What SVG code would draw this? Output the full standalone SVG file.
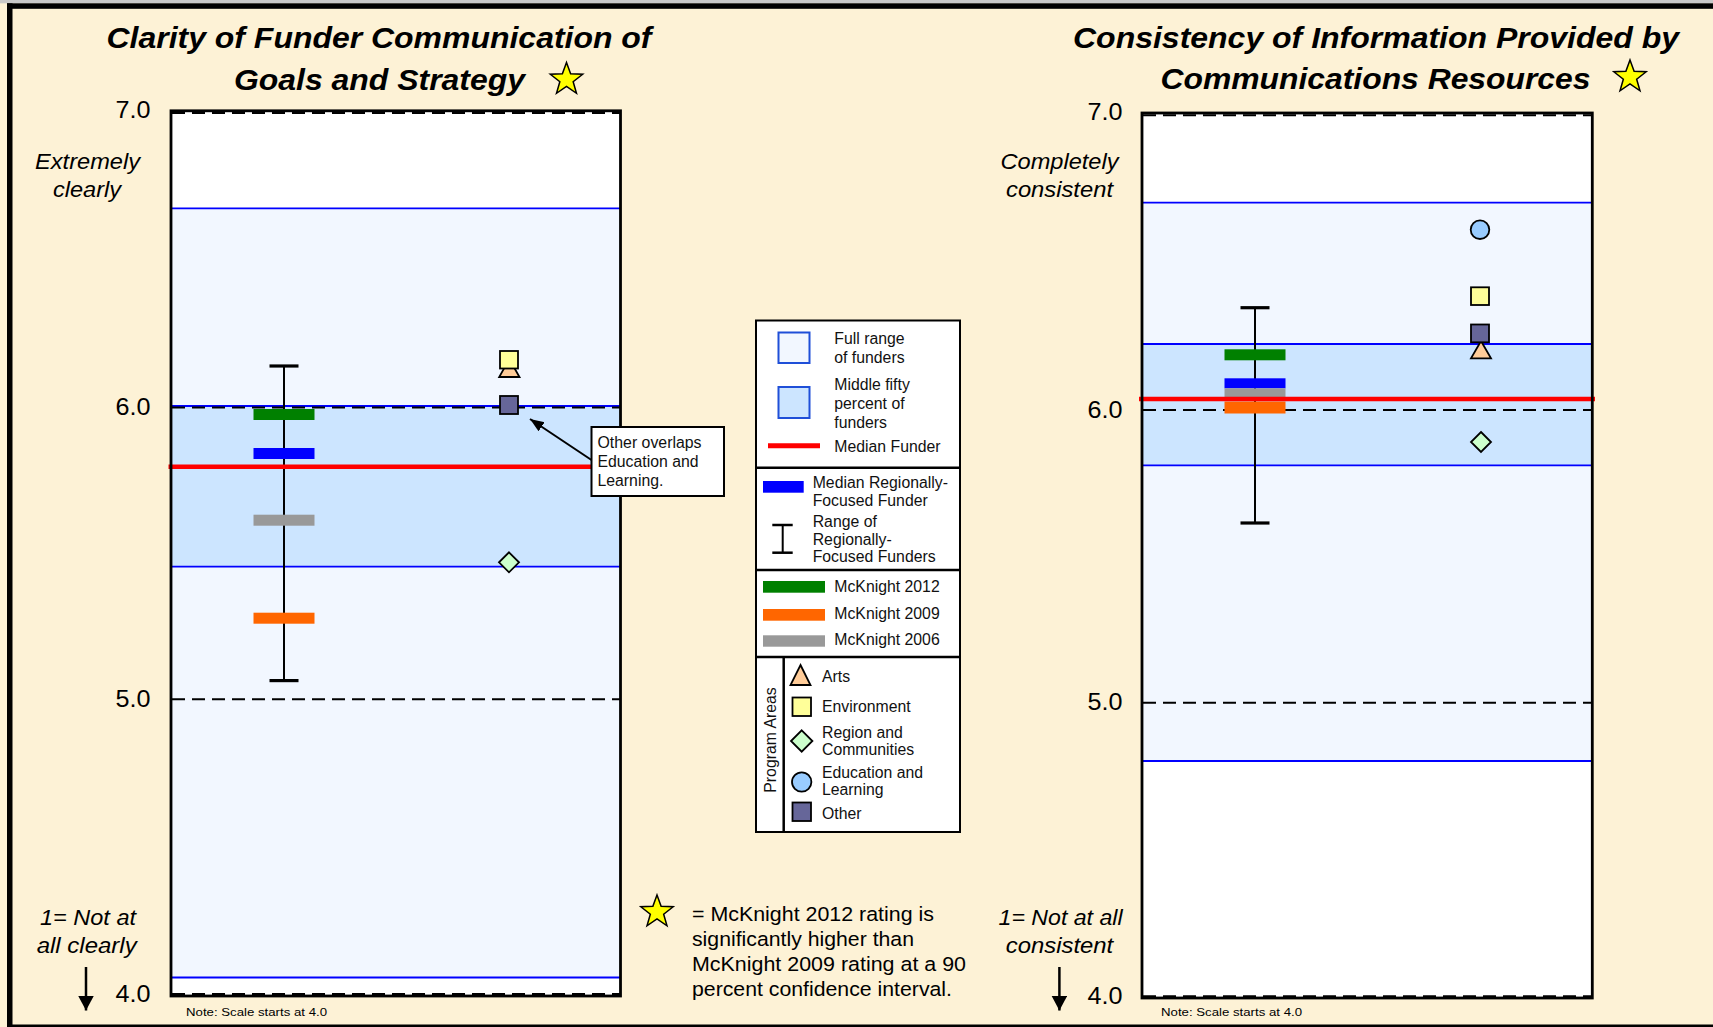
<svg xmlns="http://www.w3.org/2000/svg" width="1713" height="1027" viewBox="0 0 1713 1027">
<style>
.t{font-family:"Liberation Sans",Arial,Helvetica,sans-serif;fill:#000}
.title{font-size:30px;font-weight:bold;font-style:italic}
.ax{font-size:23.5px}
.it{font-size:21.5px;font-style:italic}
.lg{font-size:15.8px;fill:#111}
.note{font-size:11.5px}
.sn{font-size:20.5px}
.box{fill:none;stroke:#000;stroke-width:2.8}
.full{fill:#F2F7FF}
.mid{fill:#CCE5FF}
.bl{stroke:#0000FF;stroke-width:1.8}
.dash{stroke:#000;stroke-width:2;stroke-dasharray:13 7}
.red{stroke:#FF0000;stroke-width:4.5}
.eb{stroke:#000;stroke-width:2;fill:none}
.cap{stroke:#000;stroke-width:3.2}
.mk{stroke:#000;stroke-width:1.8}
.arts{fill:#FFCC99}
.env{fill:#FFFF99}
.reg{fill:#CCFFCC}
.edu{fill:#99CCFF}
.oth{fill:#666699}
.star{fill:#FFFF00;stroke:#000;stroke-width:1.5;stroke-linejoin:miter}
.sw{stroke:#1F4FD8;stroke-width:2}
.sep{stroke:#000;stroke-width:2.5}
</style>
<defs>
<path id="star" d="M0,-17 L4.11,-5.66 L16.17,-5.25 L6.66,2.16 L9.99,13.75 L0,7 L-9.99,13.75 L-6.66,2.16 L-16.17,-5.25 L-4.11,-5.66 Z"/>
<marker id="ah" markerUnits="userSpaceOnUse" markerWidth="16" markerHeight="12" refX="14" refY="5.5" orient="auto">
<path d="M0,0 L14,5.5 L0,11 Z" fill="#000"/>
</marker>
<marker id="ahd" markerUnits="userSpaceOnUse" markerWidth="17" markerHeight="17" refX="15" refY="8" orient="auto">
<path d="M0,0 L15,8 L0,16 Z" fill="#000"/>
</marker>
</defs>

<!-- background and frame -->
<rect x="0" y="0" width="1713" height="1027" fill="#FDF2D6"/>
<rect x="0" y="0" width="1713" height="3.3" fill="#C8C8C8"/>
<rect x="7" y="3.3" width="1706" height="5.5" fill="#000"/>
<rect x="7" y="3.3" width="5.5" height="1023.7" fill="#000"/>
<rect x="7" y="1024.5" width="1706" height="2.5" fill="#000"/>

<!-- LEFT CHART -->
<g id="chart-left">
<rect x="171" y="110.8" width="449.5" height="885.2" fill="#FFFFFF"/>
<rect x="171" y="208.3" width="449.5" height="769.2" class="full"/>
<rect x="171" y="406" width="449.5" height="160.7" class="mid"/>
<line x1="171" y1="208.3" x2="620.5" y2="208.3" class="bl"/>
<line x1="171" y1="406" x2="620.5" y2="406" class="bl"/>
<line x1="171" y1="566.7" x2="620.5" y2="566.7" class="bl"/>
<line x1="171" y1="977.5" x2="620.5" y2="977.5" class="bl"/>
<line x1="172" y1="113" x2="620" y2="113" class="dash"/>
<line x1="172" y1="407.5" x2="620" y2="407.5" class="dash"/>
<line x1="172" y1="699.2" x2="620" y2="699.2" class="dash"/>
<line x1="172" y1="994" x2="620" y2="994" class="dash"/>
<g id="left-range">
<line x1="284" y1="366" x2="284" y2="680.6" class="eb"/>
<line x1="269.5" y1="366" x2="298.5" y2="366" class="cap"/>
<line x1="269.5" y1="680.6" x2="298.5" y2="680.6" class="cap"/>
</g>
<rect x="253.5" y="409" width="61" height="11" fill="#008000"/>
<rect x="253.5" y="448" width="61" height="11" fill="#0000FF"/>
<rect x="253.5" y="514.7" width="61" height="11" fill="#999999"/>
<rect x="253.5" y="612.7" width="61" height="11" fill="#FF6600"/>
<line x1="168.5" y1="466.7" x2="592" y2="466.7" class="red"/>
<polygon points="509.3,359 519.5,377 499.2,377" class="mk arts"/>
<rect x="500" y="351" width="18" height="17.5" class="mk env"/>
<rect x="500" y="396" width="18" height="18" class="mk oth"/>
<polygon points="509,552.3 519,562.3 509,572.3 499,562.3" class="mk reg"/>
<rect x="171" y="110.8" width="449.5" height="885.2" class="box"/>
</g>

<g id="left-axis">
<text class="t ax" x="150.5" y="117.7" text-anchor="end" textLength="35" lengthAdjust="spacingAndGlyphs">7.0</text>
<text class="t ax" x="150.5" y="414.7" text-anchor="end" textLength="35" lengthAdjust="spacingAndGlyphs">6.0</text>
<text class="t ax" x="150.5" y="706.9" text-anchor="end" textLength="35" lengthAdjust="spacingAndGlyphs">5.0</text>
<text class="t ax" x="150.5" y="1001.7" text-anchor="end" textLength="35" lengthAdjust="spacingAndGlyphs">4.0</text>
<text class="t it" x="87.5" y="169.3" text-anchor="middle" textLength="105" lengthAdjust="spacingAndGlyphs">Extremely</text>
<text class="t it" x="87" y="196.7" text-anchor="middle" textLength="68" lengthAdjust="spacingAndGlyphs">clearly</text>
<text class="t it" x="88" y="925" text-anchor="middle" textLength="96" lengthAdjust="spacingAndGlyphs">1= Not at</text>
<text class="t it" x="86.7" y="952.7" text-anchor="middle" textLength="100" lengthAdjust="spacingAndGlyphs">all clearly</text>
<text class="t note" x="186" y="1016" textLength="141" lengthAdjust="spacingAndGlyphs">Note: Scale starts at 4.0</text>
</g>

<g id="title-left">
<text class="t title" x="379" y="48" text-anchor="middle" textLength="545" lengthAdjust="spacingAndGlyphs">Clarity of Funder Communication of</text>
<text class="t title" x="379.5" y="90" text-anchor="middle" textLength="291" lengthAdjust="spacingAndGlyphs">Goals and Strategy</text>
<use href="#star" x="566.5" y="79.5" class="star"/>
</g>

<g id="callout">
<rect x="591.5" y="427" width="132.5" height="69" fill="#FFFFFF" stroke="#000" stroke-width="2"/>
<text class="t lg" x="597.5" y="447.8" textLength="104" lengthAdjust="spacingAndGlyphs">Other overlaps</text>
<text class="t lg" x="597.5" y="466.8">Education and</text>
<text class="t lg" x="597.5" y="485.8">Learning.</text>
</g>

<!-- RIGHT CHART -->
<g id="chart-right">
<rect x="1142" y="113" width="450.3" height="885" fill="#FFFFFF"/>
<rect x="1142" y="202.7" width="450.3" height="558.3" class="full"/>
<rect x="1142" y="344" width="450.3" height="121.3" class="mid"/>
<line x1="1142" y1="202.7" x2="1592.3" y2="202.7" class="bl"/>
<line x1="1142" y1="344" x2="1592.3" y2="344" class="bl"/>
<line x1="1142" y1="465.3" x2="1592.3" y2="465.3" class="bl"/>
<line x1="1142" y1="761" x2="1592.3" y2="761" class="bl"/>
<line x1="1143" y1="115.2" x2="1591.5" y2="115.2" class="dash"/>
<line x1="1143" y1="410" x2="1591.5" y2="410" class="dash"/>
<line x1="1143" y1="702.7" x2="1591.5" y2="702.7" class="dash"/>
<line x1="1143" y1="996.2" x2="1591.5" y2="996.2" class="dash"/>
<g id="right-range">
<line x1="1255" y1="307.7" x2="1255" y2="523" class="eb"/>
<line x1="1240.5" y1="307.7" x2="1269.5" y2="307.7" class="cap"/>
<line x1="1240.5" y1="523" x2="1269.5" y2="523" class="cap"/>
</g>
<rect x="1224.5" y="349.3" width="61" height="11" fill="#008000"/>
<rect x="1224.5" y="378.3" width="61" height="10" fill="#0000FF"/>
<rect x="1224.5" y="388.3" width="61" height="11" fill="#999999"/>
<rect x="1224.5" y="401.5" width="61" height="12" fill="#FF6600"/>
<line x1="1139" y1="399" x2="1595" y2="399" class="red"/>
<circle cx="1480" cy="229.7" r="9.3" class="mk edu"/>
<rect x="1471" y="287.3" width="18" height="17.7" class="mk env"/>
<polygon points="1481,341 1491,358.3 1471,358.3" class="mk arts"/>
<rect x="1471" y="324.5" width="18" height="17.8" class="mk oth"/>
<polygon points="1481,432 1491,442 1481,452 1471,442" class="mk reg"/>
<rect x="1142" y="113" width="450.3" height="885" class="box"/>
</g>

<g id="right-axis">
<text class="t ax" x="1122.5" y="120.2" text-anchor="end" textLength="35" lengthAdjust="spacingAndGlyphs">7.0</text>
<text class="t ax" x="1122.5" y="417.5" text-anchor="end" textLength="35" lengthAdjust="spacingAndGlyphs">6.0</text>
<text class="t ax" x="1122.5" y="710.2" text-anchor="end" textLength="35" lengthAdjust="spacingAndGlyphs">5.0</text>
<text class="t ax" x="1122.5" y="1003.5" text-anchor="end" textLength="35" lengthAdjust="spacingAndGlyphs">4.0</text>
<text class="t it" x="1059.5" y="169.3" text-anchor="middle" textLength="118" lengthAdjust="spacingAndGlyphs">Completely</text>
<text class="t it" x="1059.5" y="196.7" text-anchor="middle" textLength="107" lengthAdjust="spacingAndGlyphs">consistent</text>
<text class="t it" x="1060.6" y="925" text-anchor="middle" textLength="124" lengthAdjust="spacingAndGlyphs">1= Not at all</text>
<text class="t it" x="1059.5" y="952.7" text-anchor="middle" textLength="107.5" lengthAdjust="spacingAndGlyphs">consistent</text>
<text class="t note" x="1161" y="1016" textLength="141" lengthAdjust="spacingAndGlyphs">Note: Scale starts at 4.0</text>
</g>

<g id="title-right">
<text class="t title" x="1376" y="47.5" text-anchor="middle" textLength="606" lengthAdjust="spacingAndGlyphs">Consistency of Information Provided by</text>
<text class="t title" x="1375.5" y="89" text-anchor="middle" textLength="430" lengthAdjust="spacingAndGlyphs">Communications Resources</text>
<use href="#star" x="1630" y="77" class="star"/>
</g>

<!-- LEGEND -->
<g id="legend">
<rect x="756" y="320.5" width="204" height="511.5" fill="#FFFFFF" stroke="#000" stroke-width="2"/>
<line x1="756" y1="467.7" x2="960" y2="467.7" class="sep"/>
<line x1="756" y1="570" x2="960" y2="570" class="sep"/>
<line x1="756" y1="657" x2="960" y2="657" class="sep"/>
<line x1="783.7" y1="657" x2="783.7" y2="832" class="sep"/>
<rect x="778.5" y="332.5" width="31" height="30.5" class="sw full"/>
<rect x="778.5" y="387" width="31" height="31" class="sw mid"/>
<line x1="768" y1="445.8" x2="820" y2="445.8" stroke="#FF0000" stroke-width="5"/>
<text class="t lg" x="834.3" y="344.3">Full range</text>
<text class="t lg" x="834.3" y="362.7">of funders</text>
<text class="t lg" x="834.3" y="390">Middle fifty</text>
<text class="t lg" x="834.3" y="408.7">percent of</text>
<text class="t lg" x="834.3" y="427.7">funders</text>
<text class="t lg" x="834.3" y="451.7">Median Funder</text>
<rect x="763" y="481" width="40.7" height="11.7" fill="#0000FF"/>
<line x1="782.7" y1="525" x2="782.7" y2="552.7" stroke="#000" stroke-width="2"/>
<line x1="772.3" y1="525" x2="792.7" y2="525" stroke="#000" stroke-width="2.5"/>
<line x1="772.3" y1="552.7" x2="792.7" y2="552.7" stroke="#000" stroke-width="2.5"/>
<text class="t lg" x="812.7" y="488.3">Median Regionally-</text>
<text class="t lg" x="812.7" y="505.7">Focused Funder</text>
<text class="t lg" x="812.7" y="527.3">Range of</text>
<text class="t lg" x="812.7" y="544.7">Regionally-</text>
<text class="t lg" x="812.7" y="561.7">Focused Funders</text>
<rect x="763" y="581" width="62" height="11.7" fill="#008000"/>
<rect x="763" y="609" width="62" height="11.7" fill="#FF6600"/>
<rect x="763" y="635.3" width="62" height="11.4" fill="#999999"/>
<text class="t lg" x="834.3" y="592.3">McKnight 2012</text>
<text class="t lg" x="834.3" y="619.3">McKnight 2009</text>
<text class="t lg" x="834.3" y="645.3">McKnight 2006</text>
<text class="t lg" transform="translate(775.5,740) rotate(-90)" text-anchor="middle">Program Areas</text>
<polygon points="800.5,665 810.5,685 790.5,685" class="mk arts"/>
<rect x="792.5" y="697.5" width="18.5" height="18.5" class="mk env"/>
<polygon points="801.7,730.3 812.4,741 801.7,751.7 791,741" class="mk reg"/>
<circle cx="801.7" cy="782" r="9.7" class="mk edu"/>
<rect x="792.5" y="802.5" width="18.5" height="18.5" class="mk oth"/>
<text class="t lg" x="822" y="681.7">Arts</text>
<text class="t lg" x="822" y="711.7">Environment</text>
<text class="t lg" x="822" y="737.7">Region and</text>
<text class="t lg" x="822" y="755">Communities</text>
<text class="t lg" x="822" y="777.7">Education and</text>
<text class="t lg" x="822" y="795">Learning</text>
<text class="t lg" x="822" y="819">Other</text>
</g>

<!-- STAR NOTE -->
<g id="star-note">
<use href="#star" x="657" y="912" class="star"/>
<text class="t sn" x="692" y="921" textLength="242" lengthAdjust="spacingAndGlyphs">= McKnight 2012 rating is</text>
<text class="t sn" x="692" y="945.6" textLength="222" lengthAdjust="spacingAndGlyphs">significantly higher than</text>
<text class="t sn" x="692" y="970.6" textLength="274" lengthAdjust="spacingAndGlyphs">McKnight 2009 rating at a 90</text>
<text class="t sn" x="692" y="995.8" textLength="260" lengthAdjust="spacingAndGlyphs">percent confidence interval.</text>
</g>

<!-- CONNECTORS -->
<g id="connectors">
<line x1="591.5" y1="460" x2="530" y2="419" stroke="#000" stroke-width="2" marker-end="url(#ah)"/>
<line x1="86" y1="967" x2="86" y2="1010.5" stroke="#000" stroke-width="2.5" marker-end="url(#ahd)"/>
<line x1="1059.4" y1="967" x2="1059.4" y2="1010.5" stroke="#000" stroke-width="2.5" marker-end="url(#ahd)"/>
</g>
</svg>
